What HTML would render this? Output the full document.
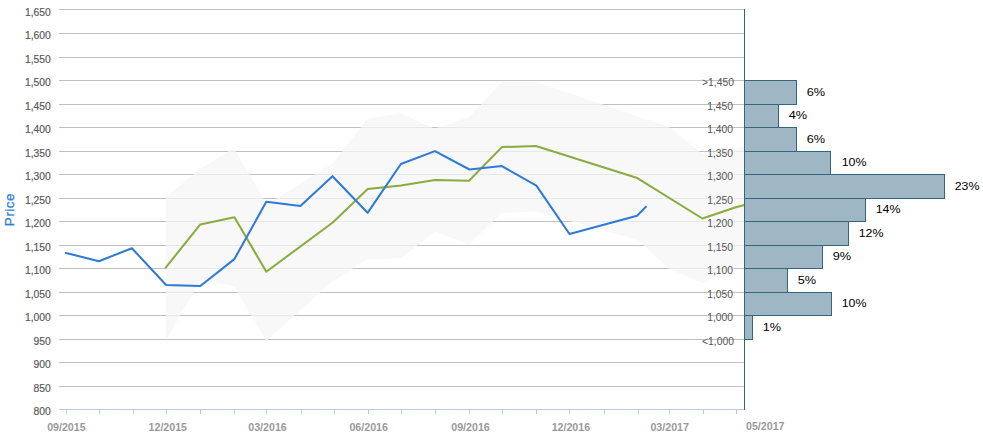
<!DOCTYPE html>
<html><head><meta charset="utf-8"><title>Price chart</title>
<style>html,body{margin:0;padding:0;background:#fff;}body{width:983px;height:435px;overflow:hidden;font-family:"Liberation Sans",sans-serif;}</style>
</head><body>
<svg width="983" height="435" viewBox="0 0 983 435" style="display:block;font-family:'Liberation Sans',sans-serif">
<rect width="983" height="435" fill="#fff"/>
<line x1="59" x2="744" y1="9.5" y2="9.5" stroke="#c0c0c0" stroke-width="1" shape-rendering="crispEdges"/>
<line x1="59" x2="744" y1="33.5" y2="33.5" stroke="#c0c0c0" stroke-width="1" shape-rendering="crispEdges"/>
<line x1="59" x2="744" y1="57.5" y2="57.5" stroke="#c0c0c0" stroke-width="1" shape-rendering="crispEdges"/>
<line x1="59" x2="744" y1="80.5" y2="80.5" stroke="#c0c0c0" stroke-width="1" shape-rendering="crispEdges"/>
<line x1="59" x2="744" y1="104.5" y2="104.5" stroke="#c0c0c0" stroke-width="1" shape-rendering="crispEdges"/>
<line x1="59" x2="744" y1="127.5" y2="127.5" stroke="#c0c0c0" stroke-width="1" shape-rendering="crispEdges"/>
<line x1="59" x2="744" y1="151.5" y2="151.5" stroke="#c0c0c0" stroke-width="1" shape-rendering="crispEdges"/>
<line x1="59" x2="744" y1="174.5" y2="174.5" stroke="#c0c0c0" stroke-width="1" shape-rendering="crispEdges"/>
<line x1="59" x2="744" y1="198.5" y2="198.5" stroke="#c0c0c0" stroke-width="1" shape-rendering="crispEdges"/>
<line x1="59" x2="744" y1="221.5" y2="221.5" stroke="#c0c0c0" stroke-width="1" shape-rendering="crispEdges"/>
<line x1="59" x2="744" y1="245.5" y2="245.5" stroke="#c0c0c0" stroke-width="1" shape-rendering="crispEdges"/>
<line x1="59" x2="744" y1="268.5" y2="268.5" stroke="#c0c0c0" stroke-width="1" shape-rendering="crispEdges"/>
<line x1="59" x2="744" y1="292.5" y2="292.5" stroke="#c0c0c0" stroke-width="1" shape-rendering="crispEdges"/>
<line x1="59" x2="744" y1="315.5" y2="315.5" stroke="#c0c0c0" stroke-width="1" shape-rendering="crispEdges"/>
<line x1="59" x2="744" y1="339.5" y2="339.5" stroke="#c0c0c0" stroke-width="1" shape-rendering="crispEdges"/>
<line x1="59" x2="744" y1="362.5" y2="362.5" stroke="#c0c0c0" stroke-width="1" shape-rendering="crispEdges"/>
<line x1="59" x2="744" y1="386.5" y2="386.5" stroke="#c0c0c0" stroke-width="1" shape-rendering="crispEdges"/>
<polygon points="166.0,197.0 199.5,169.4 233.7,148.0 266.9,204.6 333.0,163.0 367.5,118.6 401.2,113.2 434.6,128.7 469.0,117.0 502.0,82.0 536.6,82.0 669.0,127.0 702.5,154.0 744.5,147.0 744.5,263.8 702.3,283.2 669.0,268.5 638.0,240.3 536.3,211.6 501.5,212.9 468.7,244.7 435.0,231.2 401.0,258.3 367.3,259.2 332.0,281.8 266.2,341.0 234.0,286.2 200.2,280.0 166.0,340.3" fill="#f5f5f5" fill-opacity="0.75"/>
<line x1="59" x2="745" y1="409.5" y2="409.5" stroke="#b8cce0" stroke-width="1" shape-rendering="crispEdges"/>
<line x1="66.5" x2="66.5" y1="410" y2="414" stroke="#b8cce0" stroke-width="1" shape-rendering="crispEdges"/>
<line x1="99.5" x2="99.5" y1="410" y2="414" stroke="#b8cce0" stroke-width="1" shape-rendering="crispEdges"/>
<line x1="133.5" x2="133.5" y1="410" y2="414" stroke="#b8cce0" stroke-width="1" shape-rendering="crispEdges"/>
<line x1="166.5" x2="166.5" y1="410" y2="414" stroke="#b8cce0" stroke-width="1" shape-rendering="crispEdges"/>
<line x1="200.5" x2="200.5" y1="410" y2="414" stroke="#b8cce0" stroke-width="1" shape-rendering="crispEdges"/>
<line x1="234.5" x2="234.5" y1="410" y2="414" stroke="#b8cce0" stroke-width="1" shape-rendering="crispEdges"/>
<line x1="266.5" x2="266.5" y1="410" y2="414" stroke="#b8cce0" stroke-width="1" shape-rendering="crispEdges"/>
<line x1="301.5" x2="301.5" y1="410" y2="414" stroke="#b8cce0" stroke-width="1" shape-rendering="crispEdges"/>
<line x1="334.5" x2="334.5" y1="410" y2="414" stroke="#b8cce0" stroke-width="1" shape-rendering="crispEdges"/>
<line x1="368.5" x2="368.5" y1="410" y2="414" stroke="#b8cce0" stroke-width="1" shape-rendering="crispEdges"/>
<line x1="401.5" x2="401.5" y1="410" y2="414" stroke="#b8cce0" stroke-width="1" shape-rendering="crispEdges"/>
<line x1="435.5" x2="435.5" y1="410" y2="414" stroke="#b8cce0" stroke-width="1" shape-rendering="crispEdges"/>
<line x1="469.5" x2="469.5" y1="410" y2="414" stroke="#b8cce0" stroke-width="1" shape-rendering="crispEdges"/>
<line x1="502.5" x2="502.5" y1="410" y2="414" stroke="#b8cce0" stroke-width="1" shape-rendering="crispEdges"/>
<line x1="536.5" x2="536.5" y1="410" y2="414" stroke="#b8cce0" stroke-width="1" shape-rendering="crispEdges"/>
<line x1="569.5" x2="569.5" y1="410" y2="414" stroke="#b8cce0" stroke-width="1" shape-rendering="crispEdges"/>
<line x1="604.5" x2="604.5" y1="410" y2="414" stroke="#b8cce0" stroke-width="1" shape-rendering="crispEdges"/>
<line x1="638.5" x2="638.5" y1="410" y2="414" stroke="#b8cce0" stroke-width="1" shape-rendering="crispEdges"/>
<line x1="669.5" x2="669.5" y1="410" y2="414" stroke="#b8cce0" stroke-width="1" shape-rendering="crispEdges"/>
<line x1="703.5" x2="703.5" y1="410" y2="414" stroke="#b8cce0" stroke-width="1" shape-rendering="crispEdges"/>
<line x1="736.5" x2="736.5" y1="410" y2="414" stroke="#b8cce0" stroke-width="1" shape-rendering="crispEdges"/>
<polyline points="165.3,268.1 200.3,224.4 234.4,217.3 266.3,271.7 332.8,222.5 367.7,189.1 400.9,185.6 434.9,179.9 469.0,180.8 501.9,147.1 535.9,146.0 637.3,178.1 702.4,218.5 735.9,207.3 744.3,205.0" fill="none" stroke="#8aab3f" stroke-width="2.05" stroke-linejoin="round" stroke-linecap="butt"/>
<polyline points="65.1,252.7 98.9,261.2 131.9,248.2 166.1,285.0 200.3,286.0 234.4,259.1 266.3,201.8 300.4,206.0 332.5,176.2 367.6,212.8 400.9,164.0 434.9,151.1 469.5,169.5 501.9,166.1 536.4,185.7 569.5,234.0 637.1,215.8 646.5,206.1" fill="none" stroke="#2f7ad6" stroke-width="2.05" stroke-linejoin="round" stroke-linecap="butt"/>
<rect x="744.5" y="80.5" width="52.0" height="24.0" fill="#9fb6c4" stroke="#36657c" stroke-width="1" shape-rendering="crispEdges"/>
<text x="806.7" y="95.7" font-size="11.7" fill="#000" textLength="18.4" lengthAdjust="spacingAndGlyphs">6%</text>
<rect x="744.5" y="104.5" width="34.0" height="23.0" fill="#9fb6c4" stroke="#36657c" stroke-width="1" shape-rendering="crispEdges"/>
<text x="788.7" y="119.2" font-size="11.7" fill="#000" textLength="18.4" lengthAdjust="spacingAndGlyphs">4%</text>
<rect x="744.5" y="127.5" width="52.0" height="24.0" fill="#9fb6c4" stroke="#36657c" stroke-width="1" shape-rendering="crispEdges"/>
<text x="806.7" y="142.7" font-size="11.7" fill="#000" textLength="18.4" lengthAdjust="spacingAndGlyphs">6%</text>
<rect x="744.5" y="151.5" width="86.0" height="23.0" fill="#9fb6c4" stroke="#36657c" stroke-width="1" shape-rendering="crispEdges"/>
<text x="841.7" y="166.2" font-size="11.7" fill="#000" textLength="24.8" lengthAdjust="spacingAndGlyphs">10%</text>
<rect x="744.5" y="174.5" width="200.0" height="24.0" fill="#9fb6c4" stroke="#36657c" stroke-width="1" shape-rendering="crispEdges"/>
<text x="954.7" y="189.7" font-size="11.7" fill="#000" textLength="24.8" lengthAdjust="spacingAndGlyphs">23%</text>
<rect x="744.5" y="198.5" width="121.0" height="23.0" fill="#9fb6c4" stroke="#36657c" stroke-width="1" shape-rendering="crispEdges"/>
<text x="875.7" y="213.2" font-size="11.7" fill="#000" textLength="24.8" lengthAdjust="spacingAndGlyphs">14%</text>
<rect x="744.5" y="221.5" width="104.0" height="24.0" fill="#9fb6c4" stroke="#36657c" stroke-width="1" shape-rendering="crispEdges"/>
<text x="858.7" y="236.7" font-size="11.7" fill="#000" textLength="24.8" lengthAdjust="spacingAndGlyphs">12%</text>
<rect x="744.5" y="245.5" width="78.0" height="23.0" fill="#9fb6c4" stroke="#36657c" stroke-width="1" shape-rendering="crispEdges"/>
<text x="832.7" y="260.2" font-size="11.7" fill="#000" textLength="18.4" lengthAdjust="spacingAndGlyphs">9%</text>
<rect x="744.5" y="268.5" width="43.0" height="24.0" fill="#9fb6c4" stroke="#36657c" stroke-width="1" shape-rendering="crispEdges"/>
<text x="797.7" y="283.7" font-size="11.7" fill="#000" textLength="18.4" lengthAdjust="spacingAndGlyphs">5%</text>
<rect x="744.5" y="292.5" width="87.0" height="23.0" fill="#9fb6c4" stroke="#36657c" stroke-width="1" shape-rendering="crispEdges"/>
<text x="841.7" y="307.2" font-size="11.7" fill="#000" textLength="24.8" lengthAdjust="spacingAndGlyphs">10%</text>
<rect x="744.5" y="315.5" width="8.0" height="24.0" fill="#9fb6c4" stroke="#36657c" stroke-width="1" shape-rendering="crispEdges"/>
<text x="762.7" y="330.7" font-size="11.7" fill="#000" textLength="18.4" lengthAdjust="spacingAndGlyphs">1%</text>
<line x1="744.5" x2="744.5" y1="9" y2="410" stroke="#36657c" stroke-width="1" shape-rendering="crispEdges"/>
<text x="733.9" y="86" font-size="10.67" fill="#555" text-anchor="end" textLength="31.88" lengthAdjust="spacingAndGlyphs">&gt;1,450</text>
<text x="733.0" y="110" font-size="10.67" fill="#555" text-anchor="end" textLength="25.85" lengthAdjust="spacingAndGlyphs">1,450</text>
<text x="733.0" y="133" font-size="10.67" fill="#555" text-anchor="end" textLength="25.85" lengthAdjust="spacingAndGlyphs">1,400</text>
<text x="733.0" y="157" font-size="10.67" fill="#555" text-anchor="end" textLength="25.85" lengthAdjust="spacingAndGlyphs">1,350</text>
<text x="733.0" y="180" font-size="10.67" fill="#555" text-anchor="end" textLength="25.85" lengthAdjust="spacingAndGlyphs">1,300</text>
<text x="733.0" y="204" font-size="10.67" fill="#555" text-anchor="end" textLength="25.85" lengthAdjust="spacingAndGlyphs">1,250</text>
<text x="733.0" y="227" font-size="10.67" fill="#555" text-anchor="end" textLength="25.85" lengthAdjust="spacingAndGlyphs">1,200</text>
<text x="733.0" y="251" font-size="10.67" fill="#555" text-anchor="end" textLength="25.85" lengthAdjust="spacingAndGlyphs">1,150</text>
<text x="733.0" y="274" font-size="10.67" fill="#555" text-anchor="end" textLength="25.85" lengthAdjust="spacingAndGlyphs">1,100</text>
<text x="733.0" y="298" font-size="10.67" fill="#555" text-anchor="end" textLength="25.85" lengthAdjust="spacingAndGlyphs">1,050</text>
<text x="733.0" y="321" font-size="10.67" fill="#555" text-anchor="end" textLength="25.85" lengthAdjust="spacingAndGlyphs">1,000</text>
<text x="733.9" y="345" font-size="10.67" fill="#555" text-anchor="end" textLength="31.88" lengthAdjust="spacingAndGlyphs">&lt;1,000</text>
<text x="50.8" y="15.9" font-size="10.67" fill="#585858" stroke="#585858" stroke-width="0.18" text-anchor="end" textLength="25.85" lengthAdjust="spacingAndGlyphs">1,650</text>
<text x="50.8" y="38.9" font-size="10.67" fill="#585858" stroke="#585858" stroke-width="0.18" text-anchor="end" textLength="25.85" lengthAdjust="spacingAndGlyphs">1,600</text>
<text x="50.8" y="62.9" font-size="10.67" fill="#585858" stroke="#585858" stroke-width="0.18" text-anchor="end" textLength="25.85" lengthAdjust="spacingAndGlyphs">1,550</text>
<text x="50.8" y="85.9" font-size="10.67" fill="#585858" stroke="#585858" stroke-width="0.18" text-anchor="end" textLength="25.85" lengthAdjust="spacingAndGlyphs">1,500</text>
<text x="50.8" y="109.9" font-size="10.67" fill="#585858" stroke="#585858" stroke-width="0.18" text-anchor="end" textLength="25.85" lengthAdjust="spacingAndGlyphs">1,450</text>
<text x="50.8" y="132.9" font-size="10.67" fill="#585858" stroke="#585858" stroke-width="0.18" text-anchor="end" textLength="25.85" lengthAdjust="spacingAndGlyphs">1,400</text>
<text x="50.8" y="156.9" font-size="10.67" fill="#585858" stroke="#585858" stroke-width="0.18" text-anchor="end" textLength="25.85" lengthAdjust="spacingAndGlyphs">1,350</text>
<text x="50.8" y="179.9" font-size="10.67" fill="#585858" stroke="#585858" stroke-width="0.18" text-anchor="end" textLength="25.85" lengthAdjust="spacingAndGlyphs">1,300</text>
<text x="50.8" y="203.9" font-size="10.67" fill="#585858" stroke="#585858" stroke-width="0.18" text-anchor="end" textLength="25.85" lengthAdjust="spacingAndGlyphs">1,250</text>
<text x="50.8" y="226.9" font-size="10.67" fill="#585858" stroke="#585858" stroke-width="0.18" text-anchor="end" textLength="25.85" lengthAdjust="spacingAndGlyphs">1,200</text>
<text x="50.8" y="250.9" font-size="10.67" fill="#585858" stroke="#585858" stroke-width="0.18" text-anchor="end" textLength="25.85" lengthAdjust="spacingAndGlyphs">1,150</text>
<text x="50.8" y="273.9" font-size="10.67" fill="#585858" stroke="#585858" stroke-width="0.18" text-anchor="end" textLength="25.85" lengthAdjust="spacingAndGlyphs">1,100</text>
<text x="50.8" y="297.9" font-size="10.67" fill="#585858" stroke="#585858" stroke-width="0.18" text-anchor="end" textLength="25.85" lengthAdjust="spacingAndGlyphs">1,050</text>
<text x="50.8" y="320.9" font-size="10.67" fill="#585858" stroke="#585858" stroke-width="0.18" text-anchor="end" textLength="25.85" lengthAdjust="spacingAndGlyphs">1,000</text>
<text x="50.8" y="344.9" font-size="10.67" fill="#585858" stroke="#585858" stroke-width="0.18" text-anchor="end" textLength="17.23" lengthAdjust="spacingAndGlyphs">950</text>
<text x="50.8" y="367.9" font-size="10.67" fill="#585858" stroke="#585858" stroke-width="0.18" text-anchor="end" textLength="17.23" lengthAdjust="spacingAndGlyphs">900</text>
<text x="50.8" y="391.9" font-size="10.67" fill="#585858" stroke="#585858" stroke-width="0.18" text-anchor="end" textLength="17.23" lengthAdjust="spacingAndGlyphs">850</text>
<text x="50.8" y="414.6" font-size="10.67" fill="#585858" stroke="#585858" stroke-width="0.18" text-anchor="end" textLength="17.23" lengthAdjust="spacingAndGlyphs">800</text>
<text x="66.4" y="430.6" font-size="10.67" font-weight="bold" fill="#9a9a9a" text-anchor="middle">09/2015</text>
<text x="167.8" y="430.6" font-size="10.67" font-weight="bold" fill="#9a9a9a" text-anchor="middle">12/2015</text>
<text x="267.5" y="430.6" font-size="10.67" font-weight="bold" fill="#9a9a9a" text-anchor="middle">03/2016</text>
<text x="368.7" y="430.6" font-size="10.67" font-weight="bold" fill="#9a9a9a" text-anchor="middle">06/2016</text>
<text x="470.5" y="430.6" font-size="10.67" font-weight="bold" fill="#9a9a9a" text-anchor="middle">09/2016</text>
<text x="570.9" y="430.6" font-size="10.67" font-weight="bold" fill="#9a9a9a" text-anchor="middle">12/2016</text>
<text x="669.7" y="430.6" font-size="10.67" font-weight="bold" fill="#9a9a9a" text-anchor="middle">03/2017</text>
<text x="746" y="429.6" font-size="10.67" font-weight="bold" fill="#9a9a9a">05/2017</text>
<text transform="translate(13.5,209.5) rotate(-90)" font-size="13.5" letter-spacing="0.5" fill="#2f7ed8" stroke="#2f7ed8" stroke-width="0.3" text-anchor="middle">Price</text>
</svg>
</body></html>
